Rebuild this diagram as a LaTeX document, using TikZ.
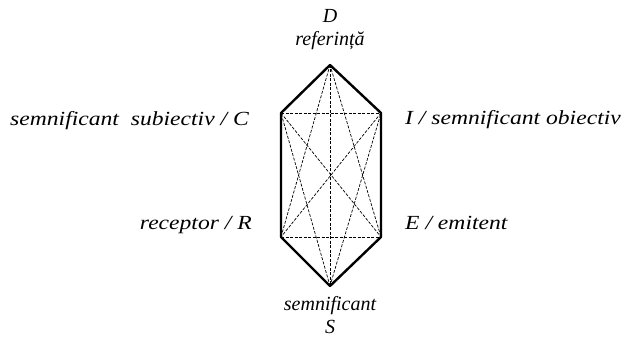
\documentclass[tikz,border=0pt]{standalone}
\usepackage{fontspec}
\setmainfont{Liberation Serif}
\newcommand{\wideLab}[1]{\scalebox{1.18}[1]{#1}}
\begin{document}
\begin{tikzpicture}[x=1pt,y=-1pt,
  edge/.style={line width=2.4pt,line join=round},
  inner/.style={line width=0.7pt,dash pattern=on 3pt off 1.5pt},
  lab/.style={inner sep=0pt,font=\fontsize{20}{22}\selectfont\itshape}]
\path[use as bounding box] (0,0) rectangle (626,339);
\coordinate (D) at (330,65);
\coordinate (C) at (281,113);
\coordinate (I) at (381,113);
\coordinate (R) at (281,237);
\coordinate (E) at (381,237);
\coordinate (S) at (330,286);
% dashed inner lines
\draw[inner] (C) -- (I);
\draw[inner] (R) -- (E);
\draw[inner] (D) -- (S);
\draw[inner] (C) -- (E);
\draw[inner] (I) -- (R);
\draw[inner] (D) -- (R);
\draw[inner] (D) -- (E);
\draw[inner] (S) -- (C);
\draw[inner] (S) -- (I);
% hexagon
\draw[edge] (D) -- (I) -- (E) -- (S) -- (R) -- (C) -- cycle;
% labels
\node[lab] (lD) at (330,16) {D};
\node[lab] (lref) at (330,41) {referință};
\node[lab,anchor=east] (lC) at (249,121) {\wideLab{semnificant\ \ subiectiv / C}};
\node[lab,anchor=west] (lI) at (405,120) {\wideLab{I / semnificant obiectiv}};
\node[lab,anchor=east] (lR) at (252,225) {\wideLab{receptor / R}};
\node[lab,anchor=west] (lE) at (405,223) {\wideLab{E / emitent}};
\node[lab] (lsem) at (330,306) {semnificant};
\node[lab] (lS) at (330,327) {S};
\end{tikzpicture}
\end{document}
